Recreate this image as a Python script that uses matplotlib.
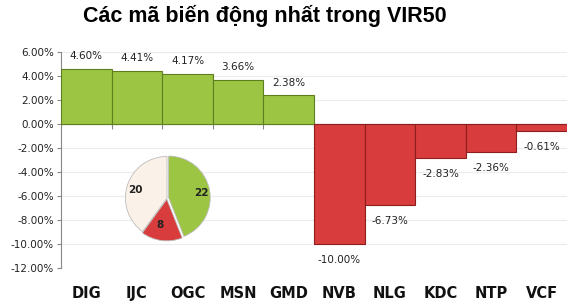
import numpy as np
import matplotlib.pyplot as plt

codes = ['DIG', 'IJC', 'OGC', 'MSN', 'GMD', 'NVB', 'NLG', 'KDC', 'NTP', 'VCF']
changes = [4.60, 4.41, 4.17, 3.66, 2.38, -10.00, -6.73, -2.83, -2.36, -0.61]
pie_counts = [22, 8, 20]  # up, down, unchanged
yticks = [6, 4, 2, 0, -2, -4, -6, -8, -10, -12]

GREEN = '#9cc543'
GREEN_EDGE = '#5f7f1f'
RED = '#d83c3c'
RED_EDGE = '#8e1d1d'
CREAM = '#faf1e8'

fig = plt.figure(figsize=(5.75, 3.05), dpi=100)
fig.patch.set_facecolor('white')
ax = fig.add_axes([61 / 575, 1 - 268 / 305, 506 / 575, 216 / 305])

x = np.arange(len(codes))
colors = [GREEN if v >= 0 else RED for v in changes]
edges = [GREEN_EDGE if v >= 0 else RED_EDGE for v in changes]
ax.bar(x, changes, width=1.0, color=colors, edgecolor=edges, linewidth=0.8, zorder=3)

for xi, v in zip(x, changes):
  if v >= 0:
    ax.text(xi, v + 0.65, '{:.2f}%'.format(v), ha='center', va='bottom',
            fontsize=7.5, color='#222222', zorder=4)
  else:
    ax.text(xi, v - 0.9, '{:.2f}%'.format(v), ha='center', va='top',
            fontsize=7.5, color='#222222', zorder=4)

ax.set_xlim(-0.5, len(codes) - 0.5)
ax.set_ylim(-12, 6)
ax.set_yticks(yticks)
ax.set_yticklabels(['{:.2f}%'.format(t) for t in yticks], fontsize=7.5, color='#222222')
ax.yaxis.grid(True, color='#ececec', linewidth=0.8, zorder=0)
ax.tick_params(axis='y', length=3, color='#888888', pad=2)

ax.set_xticks(x)
ax.set_xticklabels(codes, fontsize=10.5, fontweight='bold', color='#111111')
ax.tick_params(axis='x', length=0, pad=13)

for side in ['top', 'right', 'bottom']:
  ax.spines[side].set_visible(False)
ax.spines['left'].set_color('#888888')

# category axis at zero with boundary ticks
ax.axhline(0, color='#888888', linewidth=0.8, zorder=2)
ax.vlines(np.arange(len(codes) + 1) - 0.5, -0.4, 0, color='#888888', linewidth=0.8, zorder=2)

fig.suptitle('Các mã biến động nhất trong VIR50', x=0.46, y=0.985,
             fontsize=15.5, fontweight='bold', family='Liberation Sans')

# inset pie
pax = fig.add_axes([(167 - 52) / 575, 1 - (198 + 52) / 305, 104 / 575, 104 / 305])
wedges, texts = pax.pie(pie_counts, colors=[GREEN, RED, CREAM], startangle=90,
                        counterclock=False, explode=[0.04, 0.03, 0.0],
                        labels=[str(c) for c in pie_counts], labeldistance=0.62,
                        wedgeprops=dict(edgecolor='#bdbdbd', linewidth=0.6))
for t in texts:
  t.set_fontsize(7.5)
  t.set_fontweight('bold')
  t.set_color('#222222')
pax.set_aspect('equal')

fig.savefig('out.png', dpi=100)
